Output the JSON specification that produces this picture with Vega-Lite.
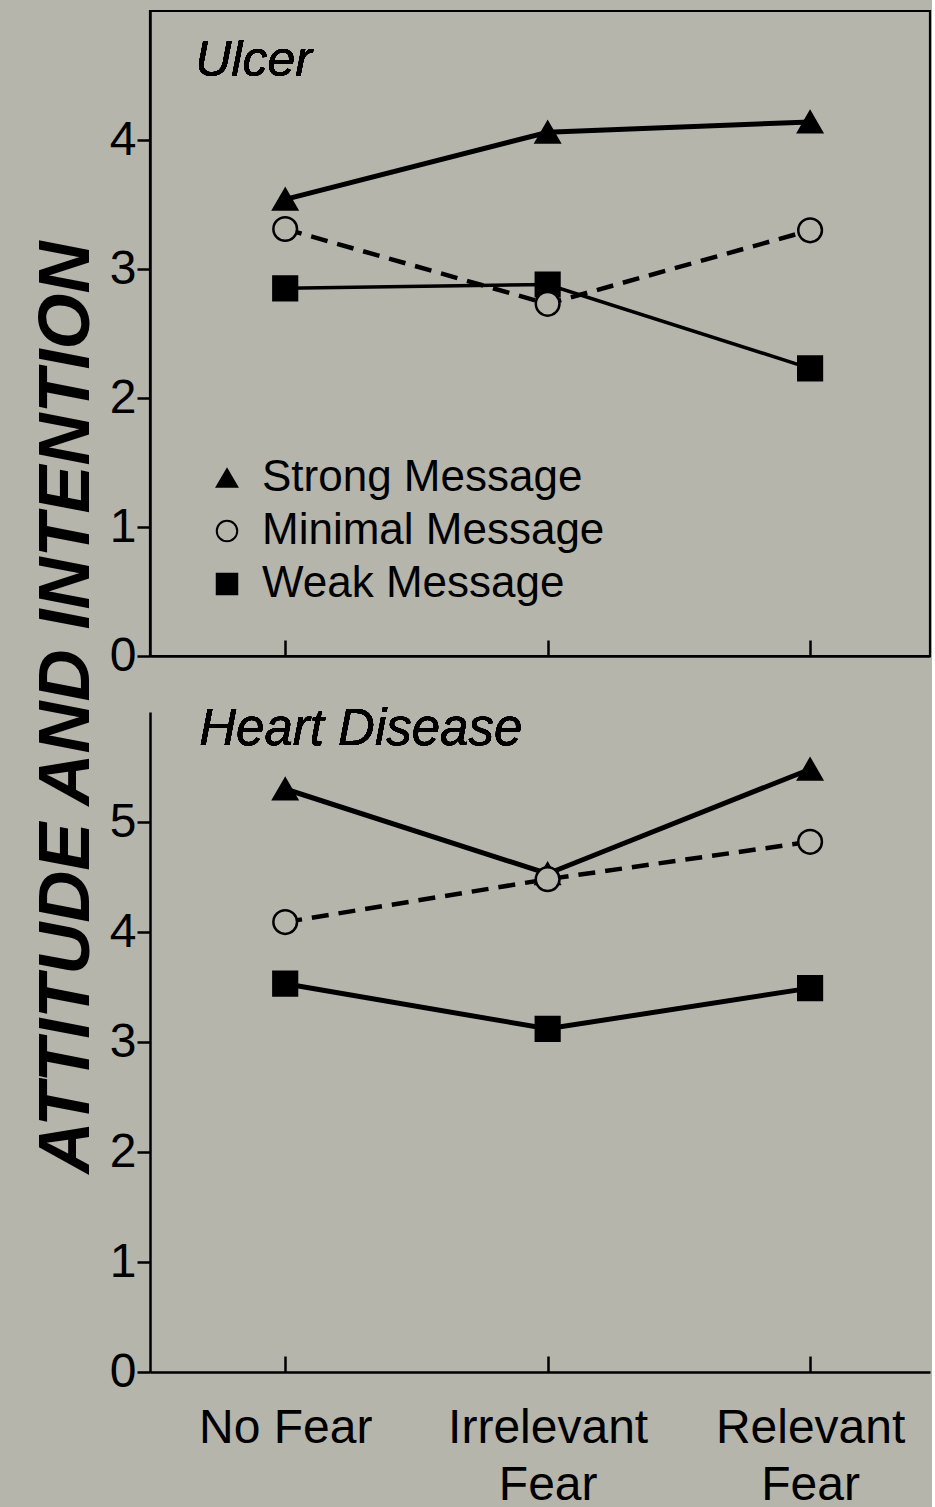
{
  "$schema": "https://vega.github.io/schema/vega-lite/v6.json",
  "background": "#b6b5ac",
  "padding": {"left": 31, "top": 9, "right": 0, "bottom": 0},
  "title": {"text": "ATTITUDE AND INTENTION", "orient": "left", "anchor": "middle", "font": "Liberation Sans", "fontSize": 72, "fontWeight": "bold", "fontStyle": "italic", "color": "black", "offset": 4, "dx": 52},
  "datasets": {
    "d": [
      {"panel": "Ulcer", "fear": "No Fear", "idx": 1, "message": "Strong Message", "value": 3.54},
      {"panel": "Ulcer", "fear": "Irrelevant Fear", "idx": 2, "message": "Strong Message", "value": 4.06},
      {"panel": "Ulcer", "fear": "Relevant Fear", "idx": 3, "message": "Strong Message", "value": 4.14},
      {"panel": "Ulcer", "fear": "No Fear", "idx": 1, "message": "Weak Message", "value": 2.85},
      {"panel": "Ulcer", "fear": "Irrelevant Fear", "idx": 2, "message": "Weak Message", "value": 2.88},
      {"panel": "Ulcer", "fear": "Relevant Fear", "idx": 3, "message": "Weak Message", "value": 2.23},
      {"panel": "Ulcer", "fear": "No Fear", "idx": 1, "message": "Minimal Message", "value": 3.31},
      {"panel": "Ulcer", "fear": "Irrelevant Fear", "idx": 2, "message": "Minimal Message", "value": 2.73},
      {"panel": "Ulcer", "fear": "Relevant Fear", "idx": 3, "message": "Minimal Message", "value": 3.30},
      {"panel": "Heart Disease", "fear": "No Fear", "idx": 1, "message": "Strong Message", "value": 5.30},
      {"panel": "Heart Disease", "fear": "Irrelevant Fear", "idx": 2, "message": "Strong Message", "value": 4.53},
      {"panel": "Heart Disease", "fear": "Relevant Fear", "idx": 3, "message": "Strong Message", "value": 5.48},
      {"panel": "Heart Disease", "fear": "No Fear", "idx": 1, "message": "Weak Message", "value": 3.53},
      {"panel": "Heart Disease", "fear": "Irrelevant Fear", "idx": 2, "message": "Weak Message", "value": 3.12},
      {"panel": "Heart Disease", "fear": "Relevant Fear", "idx": 3, "message": "Weak Message", "value": 3.49},
      {"panel": "Heart Disease", "fear": "No Fear", "idx": 1, "message": "Minimal Message", "value": 4.09},
      {"panel": "Heart Disease", "fear": "Irrelevant Fear", "idx": 2, "message": "Minimal Message", "value": 4.48},
      {"panel": "Heart Disease", "fear": "Relevant Fear", "idx": 3, "message": "Minimal Message", "value": 4.82}
    ]
  },
  "spacing": 21,
  "resolve": {
    "scale": {"shape": "independent", "fill": "independent", "stroke": "independent"},
    "legend": {"shape": "independent", "fill": "independent", "stroke": "independent"}
  },
  "vconcat": [
    {
      "width": 780,
      "height": 645,
      "view": {"stroke": "black", "strokeWidth": 2.2},
      "data": {"name": "d"},
      "transform": [{"filter": "datum.panel == 'Ulcer'"}],
      "encoding": {
        "x": {"field": "fear", "type": "ordinal", "sort": ["No Fear", "Irrelevant Fear", "Relevant Fear"], "scale": {"domain": ["No Fear", "Irrelevant Fear", "Relevant Fear"], "padding": 0.486, "align": 0.53}, "axis": {"labels": false, "tickSize": -16, "title": null}},
        "y": {"field": "value", "type": "quantitative", "scale": {"domain": [0, 5], "nice": false}, "axis": {"values": [0, 1, 2, 3, 4], "title": null}}
      },
      "layer": [
        {
          "transform": [{"filter": "datum.message == 'Strong Message'"}],
          "mark": {"type": "line", "strokeWidth": 5, "color": "black"},
          "encoding": {"order": {"field": "idx", "type": "quantitative"}}
        },
        {
          "transform": [{"filter": "datum.message == 'Weak Message'"}],
          "mark": {"type": "line", "strokeWidth": 3.5, "color": "black"},
          "encoding": {"order": {"field": "idx", "type": "quantitative"}}
        },
        {
          "transform": [{"filter": "datum.message == 'Minimal Message'"}],
          "mark": {"type": "line", "strokeWidth": 4.5, "color": "black", "strokeDash": [17, 10]},
          "encoding": {"order": {"field": "idx", "type": "quantitative"}}
        },
        {
          "mark": {"type": "point", "filled": true, "strokeWidth": 2.5, "size": 560, "opacity": 1},
          "encoding": {
            "shape": {"field": "message", "type": "nominal", "scale": {"domain": ["Strong Message", "Minimal Message", "Weak Message"], "range": ["triangle-up", "circle", "square"]}, "legend": {"title": null, "orient": "bottom-left", "offset": 50, "padding": 0, "symbolOffset": 5, "symbolSize": 420, "symbolStrokeWidth": 2, "rowPadding": 9, "labelOffset": 13}},
            "fill": {"field": "message", "type": "nominal", "scale": {"domain": ["Strong Message", "Minimal Message", "Weak Message"], "range": ["black", "#b6b5ac", "black"]}, "legend": {"title": null, "orient": "bottom-left", "offset": 50, "padding": 0, "symbolOffset": 5, "symbolSize": 420, "symbolStrokeWidth": 2, "rowPadding": 9, "labelOffset": 13}},
            "stroke": {"field": "message", "type": "nominal", "scale": {"domain": ["Strong Message", "Minimal Message", "Weak Message"], "range": ["black", "black", "black"]}, "legend": {"title": null, "orient": "bottom-left", "offset": 50, "padding": 0, "symbolOffset": 5, "symbolSize": 420, "symbolStrokeWidth": 2, "rowPadding": 9, "labelOffset": 13}}
          }
        },
        {
          "mark": {"type": "text", "text": "Ulcer", "align": "left", "baseline": "alphabetic", "dx": -90, "font": "Liberation Sans", "fontSize": 50, "fontStyle": "italic", "color": "black"},
          "encoding": {"x": {"datum": "No Fear"}, "y": {"datum": 4.5}}
        }
      ]
    },
    {
      "width": 780,
      "height": 660,
      "view": {"stroke": null},
      "data": {"name": "d"},
      "transform": [{"filter": "datum.panel == 'Heart Disease'"}],
      "encoding": {
        "x": {"field": "fear", "type": "ordinal", "sort": ["No Fear", "Irrelevant Fear", "Relevant Fear"], "scale": {"domain": ["No Fear", "Irrelevant Fear", "Relevant Fear"], "padding": 0.486, "align": 0.53}, "axis": {"tickSize": -16, "title": null, "labelAngle": 0, "labelFontSize": 48, "labelPadding": 48, "labelLineHeight": 57, "labelBaseline": "top", "labelLimit": 0, "labelExpr": "datum.value == 'No Fear' ? 'No Fear' : split(datum.value, ' ')"}},
        "y": {"field": "value", "type": "quantitative", "scale": {"domain": [0, 6], "nice": false}, "axis": {"values": [0, 1, 2, 3, 4, 5], "title": null}}
      },
      "layer": [
        {
          "transform": [{"filter": "datum.message == 'Strong Message'"}],
          "mark": {"type": "line", "strokeWidth": 5, "color": "black"},
          "encoding": {"order": {"field": "idx", "type": "quantitative"}}
        },
        {
          "transform": [{"filter": "datum.message == 'Weak Message'"}],
          "mark": {"type": "line", "strokeWidth": 5, "color": "black"},
          "encoding": {"order": {"field": "idx", "type": "quantitative"}}
        },
        {
          "transform": [{"filter": "datum.message == 'Minimal Message'"}],
          "mark": {"type": "line", "strokeWidth": 4.5, "color": "black", "strokeDash": [17, 10]},
          "encoding": {"order": {"field": "idx", "type": "quantitative"}}
        },
        {
          "mark": {"type": "point", "filled": true, "strokeWidth": 2.5, "size": 560, "opacity": 1},
          "encoding": {
            "shape": {"field": "message", "type": "nominal", "scale": {"domain": ["Strong Message", "Minimal Message", "Weak Message"], "range": ["triangle-up", "circle", "square"]}, "legend": null},
            "fill": {"field": "message", "type": "nominal", "scale": {"domain": ["Strong Message", "Minimal Message", "Weak Message"], "range": ["black", "#b6b5ac", "black"]}, "legend": null},
            "stroke": {"field": "message", "type": "nominal", "scale": {"domain": ["Strong Message", "Minimal Message", "Weak Message"], "range": ["black", "black", "black"]}, "legend": null}
          }
        },
        {
          "mark": {"type": "text", "text": "Heart Disease", "align": "left", "baseline": "alphabetic", "dx": -86, "font": "Liberation Sans", "fontSize": 51, "fontStyle": "italic", "color": "black"},
          "encoding": {"x": {"datum": "No Fear"}, "y": {"datum": 5.7}}
        }
      ]
    }
  ],
  "config": {
    "font": "Liberation Sans",
    "axis": {"domainColor": "black", "domainWidth": 2.5, "tickColor": "black", "tickWidth": 2.5, "tickSize": 13, "labelPadding": 1, "labelColor": "black", "labelFont": "Liberation Sans", "labelFontSize": 48, "grid": false},
    "legend": {"labelFont": "Liberation Sans", "labelFontSize": 44, "labelColor": "black", "labelLimit": 1000}
  }
}
